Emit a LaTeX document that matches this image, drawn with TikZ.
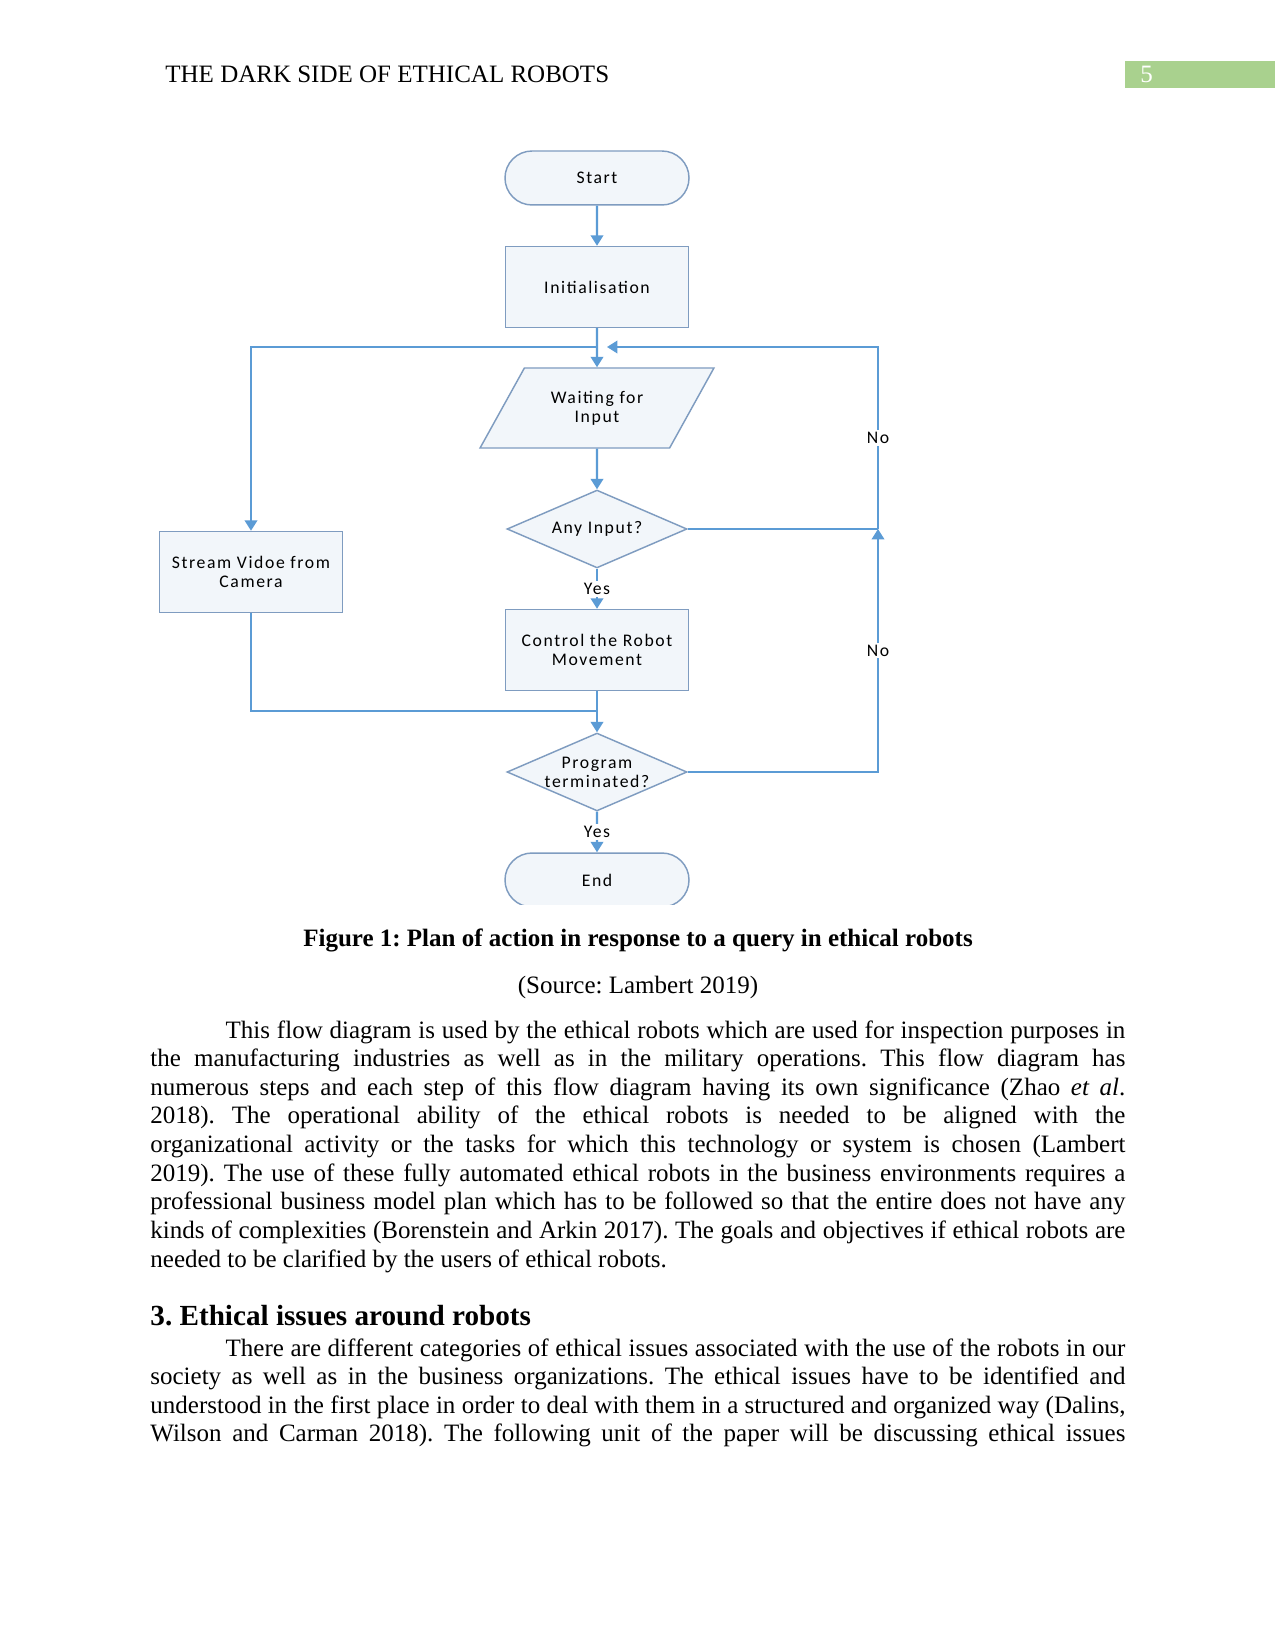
\documentclass[tikz,border=0pt]{standalone}
\usepackage{fontspec}
\setmainfont{Liberation Serif}
\newfontfamily\chartfont[LetterSpace=9]{Carlito}
\usepackage{tikz}
\usetikzlibrary{arrows.meta,shapes.geometric,shapes.misc,calc}
\definecolor{flowblue}{HTML}{5B9BD5}
\definecolor{boxedge}{HTML}{7F9CC0}
\definecolor{boxfill}{HTML}{F2F6FA}
\definecolor{pagegreen}{HTML}{A9D18E}
\frenchspacing

\begin{document}
\begin{tikzpicture}[x=0.48pt,y=-0.48pt,
  box/.style={draw=boxedge, fill=boxfill, line width=0.7pt, align=center,
    font=\chartfont\fontsize{8.5}{9.2}\selectfont},
  term/.style={box, rounded rectangle, minimum width=95pt, minimum height=25.9pt},
  proc/.style={box, rectangle, minimum width=87.8pt, minimum height=38.9pt},
  dec/.style={box, diamond, aspect=2.3, inner sep=-1.5pt, minimum width=86.4pt, minimum height=37.4pt},
  io/.style={box, trapezium, trapezium left angle=56, trapezium right angle=124,
    trapezium stretches=true, minimum width=112.8pt, minimum height=38.4pt},
  link/.style={draw=flowblue, line width=1pt},
  flow/.style={link, -{Triangle[width=6pt,length=5pt]}},
  tag/.style={fill=white, inner sep=1pt, font=\chartfont\fontsize{8.5}{9}\selectfont},
  body/.style={text width=468pt, align=justify, inner sep=0pt, anchor=base west,
    font=\fontsize{12}{13.75}\selectfont}
]
\useasboundingbox (0,0) rectangle (1275,1650);
\fill[white] (0,0) rectangle (1275,1650);

\node[anchor=base west, inner sep=0pt, font=\fontsize{12}{14}\selectfont] (hdr) at (165,83) {THE DARK SIDE OF ETHICAL ROBOTS};
\fill[pagegreen] (1125,61) rectangle (1275,88);
\node[anchor=base west, inner sep=0pt, text=white, font=\fontsize{12}{14}\selectfont] (pgno) at (1140,83) {5};

\node[term] (start) at (597,178) {Start};
\node[proc] (init) at (597,287) {Initialisation};
\node[io] (wait) at (597,408) {Waiting for\\Input};
\node[dec] (anyin) at (597,529) {Any Input?};
\node[proc] (ctrl) at (597,650) {Control the Robot\\Movement};
\node[proc] (stream) at (251,572) {Stream Vidoe from\\Camera};
\node[dec] (prog) at (597,772) {Program\\terminated?};
\begin{scope}
\clip (400,840) rectangle (800,904);
\node[term] (end) at (597,880) {End};
\end{scope}

\coordinate (jn) at (597,347);
\coordinate (jr) at (878,347);
\coordinate (mr) at (878,529);
\coordinate (mg) at (597,711);

\draw[flow] (start) -- (init);
\draw[flow] (init) -- (wait);
\draw[flow] (jn) -| (stream);
\draw[flow] (wait) -- (anyin);
\draw[flow] (anyin) -- node[tag] {Yes} (ctrl);
\draw[link] (anyin) -- (mr);
\draw[flow, shorten >=4.8pt] (mr) -- node[tag] {No} (jr) -- (jn);
\draw[flow] (prog) -| node[tag, pos=0.75] {No} (mr);
\draw[flow] (ctrl) -- (prog);
\draw[link] (stream) |- (mg);
\draw[flow] (prog) -- node[tag] {Yes} (end);

\node[anchor=base, inner sep=0pt, font=\bfseries\fontsize{12}{14}\selectfont] (cap) at (638,946) {Figure 1: Plan of action in response to a query in ethical robots};
\node[anchor=base, inner sep=0pt, font=\fontsize{12}{14}\selectfont] (src) at (638,993) {(Source: Lambert 2019)};

\node[body] (para1) at (150,1038) {\hspace*{0.5in}This flow diagram is used by the ethical robots which are used for inspection purposes in\linebreak
the manufacturing industries as well as in the military operations. This flow diagram has\linebreak
numerous steps and each step of this flow diagram having its own significance (Zhao \textit{et al}.\linebreak
2018). The operational ability of the ethical robots is needed to be aligned with the\linebreak
organizational activity or the tasks for which this technology or system is chosen (Lambert\linebreak
2019). The use of these fully automated ethical robots in the business environments requires a\linebreak
professional business model plan which has to be followed so that the entire does not have any\linebreak
kinds of complexities (Borenstein and Arkin 2017). The goals and objectives if ethical robots are\linebreak
needed to be clarified by the users of ethical robots.};

\node[anchor=base west, inner sep=0pt, font=\bfseries\fontsize{14}{16}\selectfont] (sec) at (150,1325) {3. Ethical issues around robots};

\node[body] (para2) at (150,1356) {\hspace*{0.5in}There are different categories of ethical issues associated with the use of the robots in our\linebreak
society as well as in the business organizations. The ethical issues have to be identified and\linebreak
understood in the first place in order to deal with them in a structured and organized way (Dalins,\linebreak
\makebox[\linewidth][s]{Wilson and Carman 2018). The following unit of the paper will be discussing ethical issues}};
\end{tikzpicture}
\end{document}
